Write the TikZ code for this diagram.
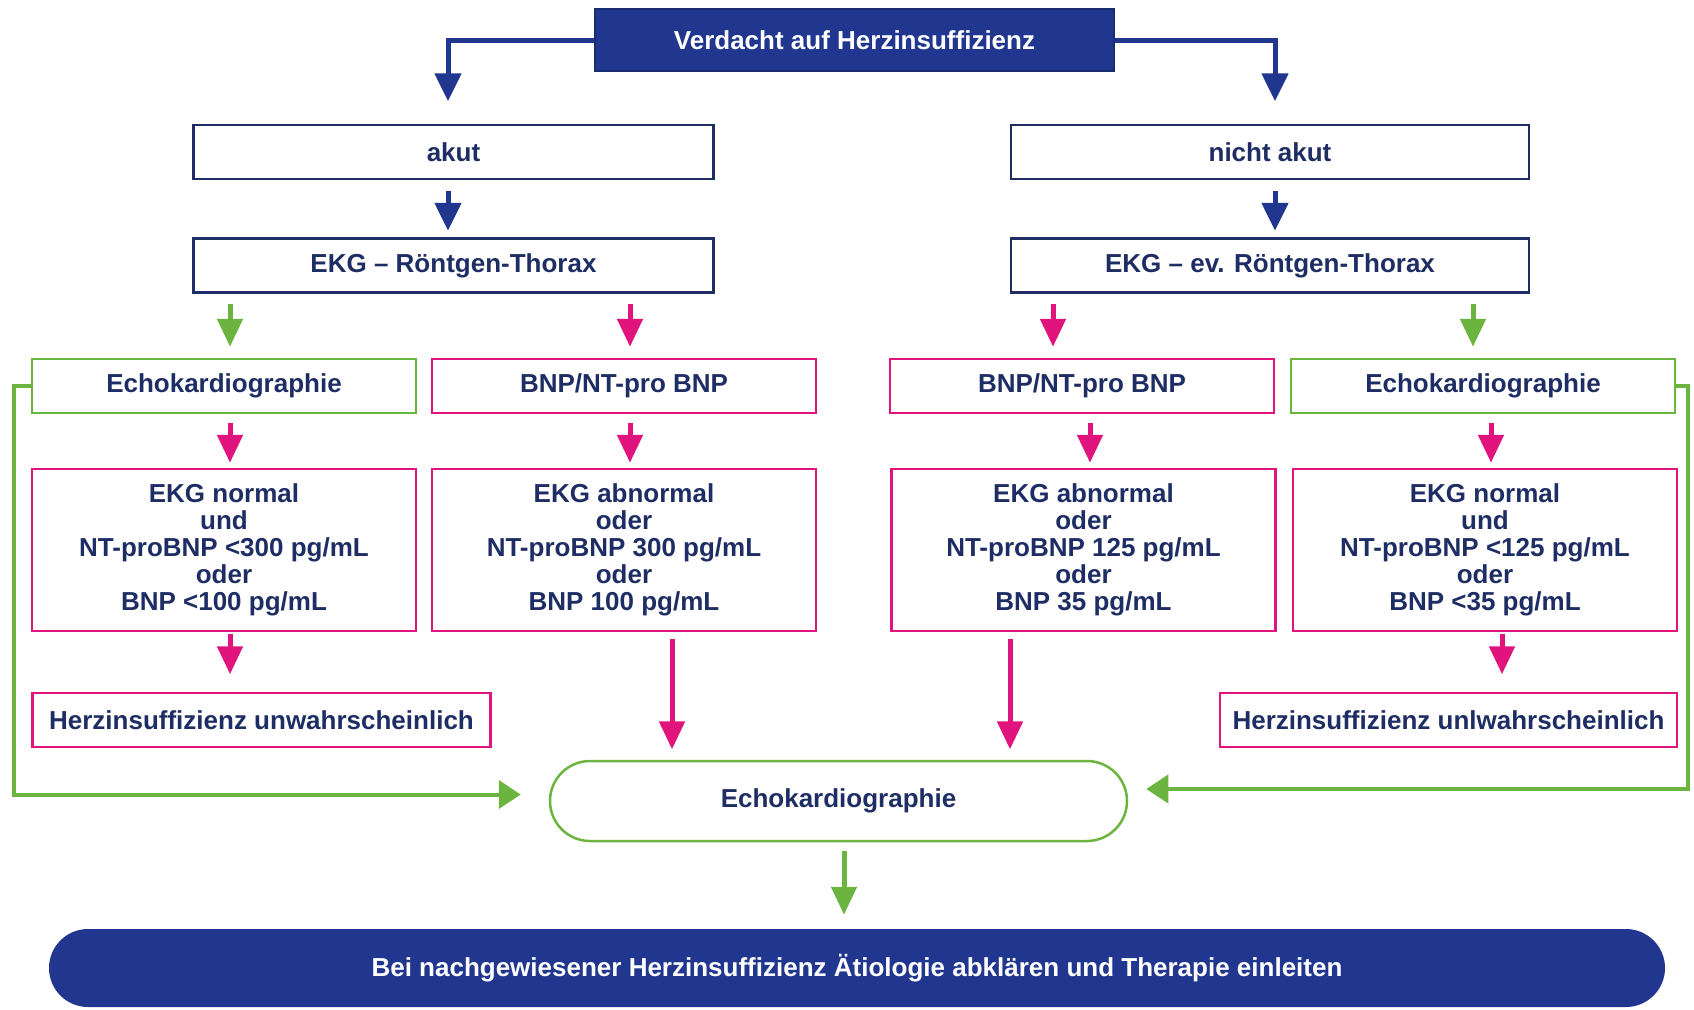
\documentclass[tikz,border=0pt]{standalone}
\usepackage{fontspec}
\setmainfont{Liberation Sans}
\usepackage{tikz}
\usetikzlibrary{shapes.geometric, arrows.meta}
\definecolor{navy}{RGB}{30,45,100}
\definecolor{hiblue}{RGB}{33,55,143}
\definecolor{hipink}{RGB}{224,20,124}
\definecolor{higreen}{RGB}{108,180,64}
\tikzstyle{base} = [rectangle, inner sep=0pt, align=center, text=navy, font=\bfseries\fontsize{13}{13.5}\selectfont, line width=1.25pt]
\tikzstyle{topbox} = [base, minimum width=259.5pt, minimum height=31pt, fill=hiblue, draw=hiblue!80!black, text=white]
\tikzstyle{stepbox} = [base, minimum width=260pt, minimum height=27pt, draw=navy, fill=white]
\tikzstyle{greenbox} = [base, minimum width=192pt, minimum height=27pt, draw=higreen]
\tikzstyle{pinkbox} = [base, minimum width=192pt, minimum height=27pt, draw=hipink]
\tikzstyle{valuebox} = [pinkbox, minimum height=81pt]
\tikzstyle{echobox} = [base, rounded corners=20pt, minimum width=288.5pt, minimum height=40pt, draw=higreen]
\tikzstyle{endbox} = [base, rounded corners=19.5pt, minimum width=808pt, minimum height=39pt, fill=hiblue, text=white]
\tikzstyle{bluearrow} = [line width=2.5pt, draw=hiblue, -{Triangle[width=13pt,length=14pt]}]
\tikzstyle{pinkarrow} = [line width=2.5pt, draw=hipink, -{Triangle[width=12.5pt,length=14pt]}]
\tikzstyle{greenarrow} = [line width=2.5pt, draw=higreen, -{Triangle[width=12.5pt,length=14pt]}]
\tikzstyle{looparrow} = [line width=2pt, draw=higreen, -{Triangle[width=14pt,length=11pt]}]
\begin{document}
\begin{tikzpicture}[x=0.5pt, y=-0.5pt]

			\useasboundingbox (0,0) rectangle (1694,1009);

			\node (verdacht) [topbox] at (854.5,40) {Verdacht auf Herzinsuffizienz};
			\node (akut) [stepbox] at (453.5,152) {akut};
			\node (nichtakut) [stepbox, minimum width=259pt] at (1270,152) {nicht akut};
			\node (ekgL) [stepbox] at (453.5,265.5) {EKG – Röntgen-Thorax};
			\node (ekgR) [stepbox, minimum width=259pt] at (1270,265.5) {EKG – ev. Röntgen-Thorax};

			\node (echoL) [greenbox] at (224,386) {Echokardiographie};
			\node (bnpL) [pinkbox] at (624,386) {BNP/NT-pro BNP};
			\node (bnpR) [pinkbox] at (1082,386) {BNP/NT-pro BNP};
			\node (echoR) [greenbox] at (1483,386) {Echokardiographie};

			\node (normL) [valuebox] at (224,550) {EKG normal\\und\\NT-proBNP <300 pg/mL\\oder\\BNP <100 pg/mL};
			\node (abnL) [valuebox] at (624,550) {EKG abnormal\\oder\\NT-proBNP 300 pg/mL\\oder\\BNP 100 pg/mL};
			\node (abnR) [valuebox] at (1083.5,550) {EKG abnormal\\oder\\NT-proBNP 125 pg/mL\\oder\\BNP 35 pg/mL};
			\node (normR) [valuebox] at (1485,550) {EKG normal\\und\\NT-proBNP <125 pg/mL\\oder\\BNP <35 pg/mL};

			\node (herzL) [pinkbox, minimum width=229pt] at (261.5,720) {Herzinsuffizienz unwahrscheinlich};
			\node (herzR) [pinkbox, minimum width=228.5pt] at (1448.5,720) {Herzinsuffizienz unlwahrscheinlich};
			\node (echoM) [echobox] at (838.5,801) {Echokardiographie};
			\node (therapie) [endbox] at (857,968) {Bei nachgewiesener Herzinsuffizienz Ätiologie abklären und Therapie einleiten};

			\coordinate (colAkut) at (448,0);
			\coordinate (colNicht) at (1275,0);
			\coordinate (colEchoL) at (230,0);
			\coordinate (colBnpL) at (630,0);
			\coordinate (colBnpR) at (1053,0);
			\coordinate (colAbnR) at (1090,0);
			\coordinate (colEchoR) at (1473,0);
			\coordinate (colNormR) at (1491,0);
			\coordinate (colHerzR) at (1502,0);
			\coordinate (colLangL) at (672,0);
			\coordinate (colLangR) at (1010,0);
			\coordinate (colEnde) at (844,0);
			\coordinate (loopL) at (13.5,794.5);
			\coordinate (loopR) at (1688,789);

			\draw [bluearrow, shorten >=11.25pt] (verdacht.west) -| (akut.north -| colAkut);
			\draw [bluearrow, shorten >=11.25pt] (verdacht.east) -| (nichtakut.north -| colNicht);
			\draw [bluearrow, shorten <=5.5pt, shorten >=3.25pt] (akut.south -| colAkut) -- (ekgL.north -| colAkut);
			\draw [bluearrow, shorten <=5.5pt, shorten >=3.25pt] (nichtakut.south -| colNicht) -- (ekgR.north -| colNicht);

			\draw [greenarrow, shorten <=5pt, shorten >=5.5pt] (ekgL.south -| colEchoL) -- (echoL.north -| colEchoL);
			\draw [pinkarrow, shorten <=5pt, shorten >=5.5pt] (ekgL.south -| colBnpL) -- (bnpL.north -| colBnpL);
			\draw [pinkarrow, shorten <=5pt, shorten >=5.5pt] (ekgR.south -| colBnpR) -- (bnpR.north -| colBnpR);
			\draw [greenarrow, shorten <=5pt, shorten >=5.5pt] (ekgR.south -| colEchoR) -- (echoR.north -| colEchoR);

			\draw [pinkarrow, shorten <=4.5pt, shorten >=2.5pt] (echoL.south -| colEchoL) -- (normL.north -| colEchoL);
			\draw [pinkarrow, shorten <=4.5pt, shorten >=2.5pt] (bnpL.south -| colBnpL) -- (abnL.north -| colBnpL);
			\draw [pinkarrow, shorten <=4.5pt, shorten >=2.5pt] (bnpR.south -| colAbnR) -- (abnR.north -| colAbnR);
			\draw [pinkarrow, shorten <=4.5pt, shorten >=2.5pt] (echoR.south -| colNormR) -- (normR.north -| colNormR);

			\draw [pinkarrow, shorten <=0.75pt, shorten >=8.75pt] (normL.south -| colEchoL) -- (herzL.north -| colEchoL);
			\draw [pinkarrow, shorten <=0.75pt, shorten >=8.75pt] (normR.south -| colHerzR) -- (herzR.north -| colHerzR);
			\draw [pinkarrow, shorten <=3.25pt, shorten >=5.2pt] (abnL.south -| colLangL) -- (echoM.north -| colLangL);
			\draw [pinkarrow, shorten <=3.25pt, shorten >=5.2pt] (abnR.south -| colLangR) -- (echoM.north -| colLangR);

			\draw [looparrow, shorten >=14pt] (echoL.west) -| (loopL) -- (loopL -| echoM.west);
			\draw [looparrow, shorten >=9pt] (echoR.east) -| (loopR) -- (loopR -| echoM.east);
			\draw [greenarrow, shorten <=4.5pt, shorten >=6.5pt] (echoM.south -| colEnde) -- (therapie.north -| colEnde);

\end{tikzpicture}
\end{document}
